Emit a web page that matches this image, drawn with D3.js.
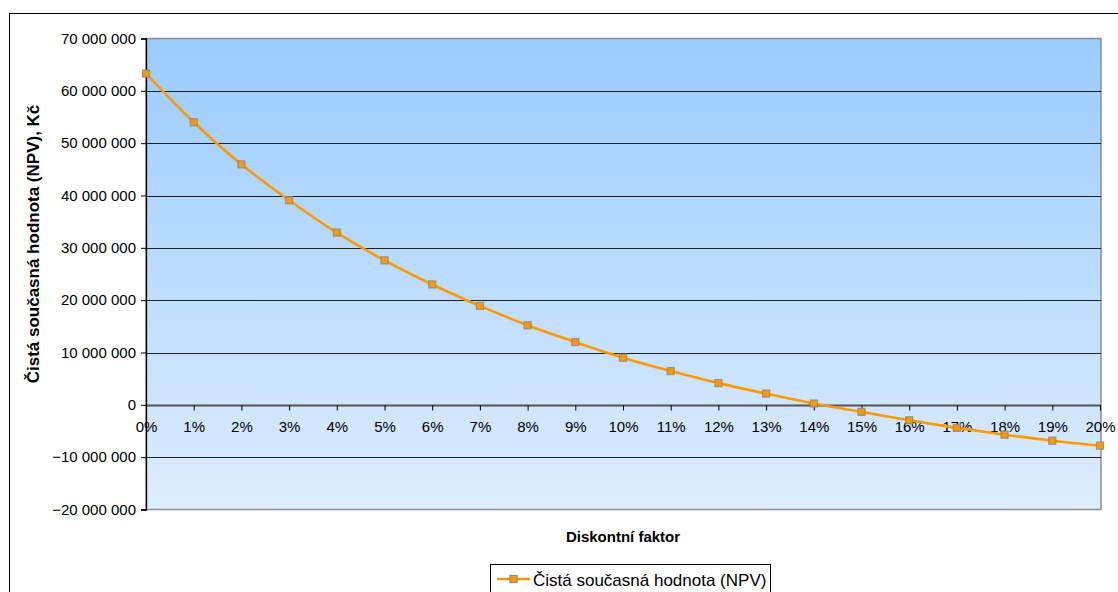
<!DOCTYPE html>
<html>
<head>
<meta charset="utf-8">
<script src="https://cdn.jsdelivr.net/npm/d3@7"></script>
<style>
  html, body { margin: 0; padding: 0; background: #fff; }
  svg { display: block; font-family: Arial, "Liberation Sans", sans-serif; }
</style>
</head>
<body>
<svg id="chart" width="1118" height="592"></svg>
<script>
// Discount rates (%) and the resulting net present value (CZK)
const rates = [0, 1, 2, 3, 4, 5, 6, 7, 8, 9, 10, 11, 12, 13, 14, 15, 16, 17, 18, 19, 20];
const npv = [63300000, 54000000, 45950000, 39100000, 32900000, 27600000, 23000000,
             18900000, 15200000, 12000000, 9000000, 6450000, 4150000, 2150000,
             250000, -1350000, -2950000, -4400000, -5700000, -6850000, -7800000];
const yTicks = [70000000, 60000000, 50000000, 40000000, 30000000, 20000000,
                10000000, 0, -10000000, -20000000];
const seriesName = "Čistá současná hodnota (NPV)";
const xTitle = "Diskontní faktor";
const yTitle = "Čistá současná hodnota (NPV), Kč";

const svg = d3.select("#chart");
const plot = { left: 146, right: 1101, top: 38.5, bottom: 509.5 };

const x = d3.scaleLinear().domain([0, 20]).range([plot.left, plot.right - 1]);
const y = d3.scaleLinear().domain([-20000000, 70000000]).range([plot.bottom, plot.top]);

const fmt = v => d3.format(",")(v).replace(/,/g, " ");

// outer chart frame
svg.append("rect").attr("x", 9.5).attr("y", 13.5).attr("width", 1130).attr("height", 600)
  .attr("fill", "#fff").attr("stroke", "#000").attr("stroke-width", 1);

// plot background gradient
const defs = svg.append("defs");
const grad = defs.append("linearGradient").attr("id", "bg").attr("x1", 0).attr("y1", 0).attr("x2", 0).attr("y2", 1);
grad.append("stop").attr("offset", "0%").attr("stop-color", "#99ccff");
grad.append("stop").attr("offset", "100%").attr("stop-color", "#deedfd");

svg.append("rect").attr("x", plot.left).attr("y", plot.top)
  .attr("width", plot.right - plot.left).attr("height", plot.bottom - plot.top)
  .attr("fill", "url(#bg)").attr("stroke", "#8c8c8c").attr("stroke-width", 1.5);

// horizontal gridlines
svg.append("g").selectAll("line").data(yTicks.filter(d => d !== 70000000 && d !== -20000000)).join("line")
  .attr("x1", plot.left).attr("x2", plot.right)
  .attr("y1", d => Math.round(y(d)) + 0.5).attr("y2", d => Math.round(y(d)) + 0.5)
  .attr("stroke", d => d === 0 ? "#555" : "#222").attr("stroke-width", d => d === 0 ? 2 : 1.2);

// y axis
const yAxis = d3.axisLeft(y).tickValues(yTicks).tickFormat(fmt).tickSize(5).tickPadding(5);
const gy = svg.append("g").attr("transform", `translate(${plot.left},0)`).call(yAxis);
gy.select(".domain").attr("stroke", "#000").attr("stroke-width", 1.3);
gy.selectAll(".tick line").attr("stroke", "#000");
gy.selectAll(".tick text").attr("font-size", 15).attr("fill", "#000")
  .attr("font-family", "Arial, 'Liberation Sans', sans-serif");

// x axis along zero
const xAxis = d3.axisBottom(x).tickValues(rates).tickFormat(d => d + "%").tickSize(5).tickPadding(11);
const gx = svg.append("g").attr("transform", `translate(0,${Math.round(y(0)) + 0.5})`).call(xAxis);
gx.select(".domain").remove();
gx.selectAll(".tick line").attr("stroke", "#000");
gx.selectAll(".tick text").attr("font-size", 15).attr("fill", "#000")
  .attr("font-family", "Arial, 'Liberation Sans', sans-serif");

// NPV series
const line = d3.line().x((d, i) => x(rates[i])).y(d => y(d)).curve(d3.curveCatmullRom.alpha(0.5));
svg.append("path").datum(npv).attr("d", line)
  .attr("fill", "none").attr("stroke", "#ff9900").attr("stroke-width", 2.6);

svg.append("g").selectAll("rect").data(npv).join("rect")
  .attr("x", (d, i) => x(rates[i]) - 3.5).attr("y", d => y(d) - 3.5)
  .attr("width", 7).attr("height", 7)
  .attr("fill", "#ff9900").attr("stroke", "#8a8a8a").attr("stroke-opacity", 0.8).attr("stroke-width", 1.3);

// axis titles
svg.append("text").attr("x", 623).attr("y", 542).attr("text-anchor", "middle")
  .attr("font-size", 15).attr("font-weight", "bold").text(xTitle);

svg.append("text").attr("transform", "translate(39,244) rotate(-90)").attr("text-anchor", "middle")
  .attr("font-size", 17).attr("font-weight", "bold").text(yTitle);

// legend
const lg = svg.append("g");
lg.append("rect").attr("x", 490.5).attr("y", 564.5).attr("width", 280).attr("height", 30)
  .attr("fill", "#fff").attr("stroke", "#000");
lg.append("line").attr("x1", 497).attr("x2", 530).attr("y1", 579).attr("y2", 579)
  .attr("stroke", "#ff9900").attr("stroke-width", 2.6);
lg.append("rect").attr("x", 510).attr("y", 575.5).attr("width", 7).attr("height", 7)
  .attr("fill", "#ff9900").attr("stroke", "#8a8a8a").attr("stroke-width", 1.3);
lg.append("text").attr("x", 533).attr("y", 585.5).attr("font-size", 17).text(seriesName);
</script>
</body>
</html>
